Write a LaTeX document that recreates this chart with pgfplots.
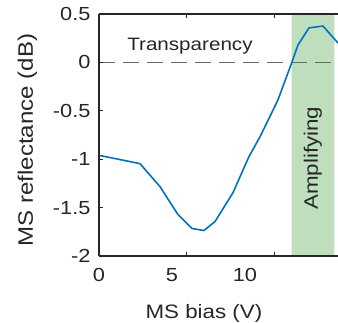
\documentclass[border=0pt]{standalone}
\usepackage{fontspec}
\setmainfont{Liberation Sans}[FakeStretch=1.15]
\usepackage{pgfplots}
\pgfplotsset{compat=1.18}
\definecolor{matblue}{RGB}{0,114,189}
\definecolor{bandgreen}{RGB}{191,222,190}
\definecolor{axgray}{RGB}{38,38,38}
\definecolor{dashgray}{RGB}{105,105,105}
\begin{document}
\begin{tikzpicture}
\begin{axis}[
  scale only axis, width=239bp, height=242bp,
  xmin=0, xmax=16.37, ymin=-2, ymax=0.5,
  axis x line*=box, axis y line*=left,
  axis line style={-, draw=axgray, line width=1.1bp},
  axis on top,
  tick align=inside,
  major tick length=4bp,
  tick style={draw=axgray, line width=1bp},
  xtick={6,12}, xticklabels={,},
  extra x ticks={0,5,10}, extra x tick labels={0,5,10},
  extra x tick style={major tick length=0pt},
  ytick={-2,-1.5,-1,-0.5,0,0.5},
  yticklabels={-2,-1.5,-1,-0.5,0,0.5},
  xticklabel style={font=\fontsize{19}{22}\selectfont, text=axgray, yshift=-9bp},
  yticklabel style={font=\fontsize{19}{22}\selectfont, text=axgray, xshift=-5bp},
  every axis x label/.style={at={([yshift=-62bp]axis description cs:0.439,0)}, anchor=base, font=\fontsize{19.5}{23}\selectfont, text=axgray},
  every axis y label/.style={at={([xshift=-66bp]axis description cs:0,0.479)}, rotate=90, anchor=base, font=\fontsize{21}{25}\selectfont, text=axgray},
  xlabel={MS bias (V)},
  ylabel={MS reflectance (dB)},
  line join=round,
]
\coordinate (o) at (rel axis cs:0,0);
\addplot[fill=bandgreen, draw=none] coordinates {(13.2,-2) (13.2,0.5) (16.12,0.5) (16.12,-2) (13.2,-2)};
\addplot[dashgray, line width=1.2bp, dash pattern=on 16bp off 8bp] coordinates {(0,0) (16.37,0)};
\addplot[matblue, line width=1.6bp] coordinates {
(0,-0.96) (2.81,-1.046) (4.18,-1.284) (5.41,-1.572) (6.37,-1.716) (7.19,-1.737)
(7.95,-1.644) (9.18,-1.345) (10.27,-0.974) (11.03,-0.768) (12.26,-0.387)
(13.22,0.005) (13.63,0.18) (14.38,0.356) (15.34,0.376) (16.37,0.20)};
\node[anchor=base, font=\fontsize{18}{21}\selectfont, text=axgray] at (axis cs:6.23,0.122) {Transparency};
\node[rotate=90, anchor=base, font=\fontsize{19.5}{23}\selectfont, text=axgray] at (axis cs:15.0,-0.99) {Amplifying};
\end{axis}
\pgfresetboundingbox
\path[use as bounding box] ([shift={(-99bp,-67bp)}]o) rectangle ([shift={(239bp,256bp)}]o);
\end{tikzpicture}
\end{document}
